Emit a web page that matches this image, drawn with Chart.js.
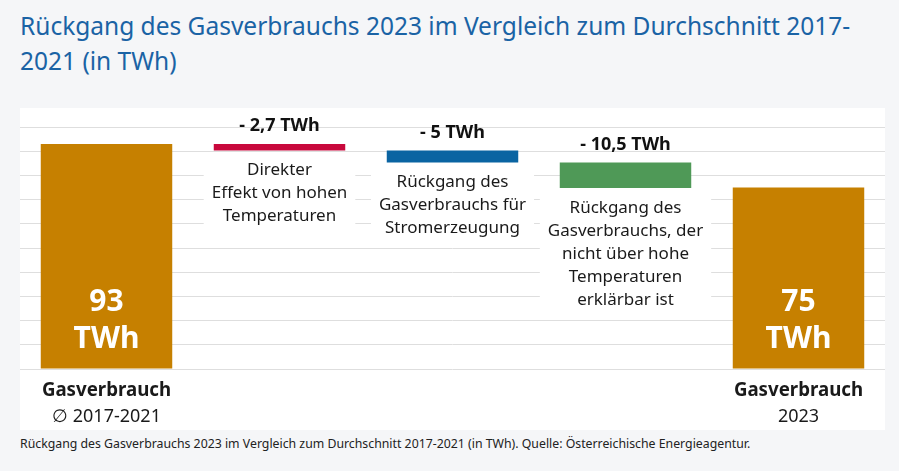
<!DOCTYPE html>
<html>
<head>
<meta charset="utf-8">
<script src="https://cdn.jsdelivr.net/npm/chart.js@4"></script>
<style>
  body { margin: 0; background: #f5f6f8; width: 899px; height: 471px; overflow: hidden; font-family: "Noto Sans", sans-serif; }
  #title { position: absolute; left: 20px; top: 8px; font-size: 24.5px; line-height: 35px; color: #1a63a5; }
  #wrap { position: absolute; left: 20px; top: 108px; width: 865px; height: 322px; background: #fff; }
  #caption { position: absolute; left: 20px; top: 435px; font-size: 12.3px; color: #222; }
</style>
</head>
<body>
<div id="title">Rückgang des Gasverbrauchs 2023 im Vergleich zum Durchschnitt 2017-<br>2021 (in TWh)</div>
<div id="wrap"><canvas id="chart" width="865" height="322"></canvas></div>
<div id="caption">Rückgang des Gasverbrauchs 2023 im Vergleich zum Durchschnitt 2017-2021 (in TWh). Quelle: Österreichische Energieagentur.</div>
<script>
// values in TWh: start total, three decreases, end total
const categories = ["avg", "temp", "power", "other", "y2023"];
const changes = [93, -2.7, -5, -10.5, 75];
const isTotal = [true, false, false, false, true];
const valueLabels = [["93", "TWh"], ["- 2,7 TWh"], ["- 5 TWh"], ["- 10,5 TWh"], ["75", "TWh"]];
const descriptions = [
  [],
  ["Direkter", "Effekt von hohen", "Temperaturen"],
  ["Rückgang des", "Gasverbrauchs für", "Stromerzeugung"],
  ["Rückgang des", "Gasverbrauchs, der", "nicht über hohe", "Temperaturen", "erklärbar ist"],
  []
];
const axisLabels = [["Gasverbrauch", "∅ 2017-2021"], [], [], [], ["Gasverbrauch", "2023"]];
const colors = ["#c68000", "#c8083c", "#0a64a2", "#4f9957", "#c68000"];
const yTicks = { min: 0, max: 100, step: 10 };

// waterfall ranges from the changes
let running = 0;
const ranges = changes.map((v, i) => {
  if (isTotal[i]) { running = v; return [0, v]; }
  const top = running;
  running = running + v;
  return [running, top];
});

const FONT = '"Noto Sans", sans-serif';

const labelPlugin = {
  id: "waterfallLabels",
  afterDatasetsDraw(chart) {
    const ctx = chart.ctx;
    const meta = chart.getDatasetMeta(0);
    ctx.save();
    ctx.textAlign = "center";
    ctx.textBaseline = "middle";
    meta.data.forEach((bar, i) => {
      const top = Math.min(bar.y, bar.base);
      const bottom = Math.max(bar.y, bar.base);
      if (isTotal[i]) {
        ctx.fillStyle = "#fff";
        ctx.font = "bold 30px " + FONT;
        ctx.fillText(valueLabels[i][0], bar.x, bottom - 66);
        ctx.fillText(valueLabels[i][1], bar.x, bottom - 29);
      } else {
        ctx.fillStyle = "#111";
        ctx.font = "bold 18px " + FONT;
        ctx.fillText(valueLabels[i][0], bar.x, top - 18);
        const lines = descriptions[i];
        ctx.font = "17px " + FONT;
        const w = Math.max(...lines.map(l => ctx.measureText(l).width)) + 16;
        const lh = 23;
        const y0 = bottom + 20;
        ctx.fillStyle = "#fff";
        ctx.fillRect(bar.x - w / 2, bottom + 6, w, lines.length * lh + 4);
        ctx.fillStyle = "#1a1a1a";
        lines.forEach((l, k) => ctx.fillText(l, bar.x, y0 + k * lh));
      }
      const ax = axisLabels[i];
      if (ax.length) {
        const base = chart.chartArea.bottom;
        ctx.fillStyle = "#1a1a1a";
        ctx.font = "bold 18.7px " + FONT;
        ctx.fillText(ax[0], bar.x, base + 22);
        ctx.font = "18px " + FONT;
        ctx.fillText(ax[1], bar.x, base + 48);
      }
    });
    ctx.restore();
  }
};

new Chart(document.getElementById("chart"), {
  type: "bar",
  data: {
    labels: categories,
    datasets: [{
      data: ranges,
      backgroundColor: colors,
      borderWidth: 0,
      barPercentage: 0.76,
      categoryPercentage: 1
    }]
  },
  options: {
    responsive: false,
    animation: false,
    layout: { padding: { top: 19, bottom: 61, left: 0, right: 0 } },
    plugins: { legend: { display: false }, tooltip: { enabled: false } },
    scales: {
      x: {
        ticks: { display: false },
        grid: { display: false, drawTicks: false },
        border: { display: false }
      },
      y: {
        min: yTicks.min,
        max: yTicks.max,
        ticks: { display: false, stepSize: yTicks.step },
        grid: { color: "#dedede", drawTicks: false },
        border: { display: false }
      }
    }
  },
  plugins: [labelPlugin]
});
</script>
</body>
</html>
